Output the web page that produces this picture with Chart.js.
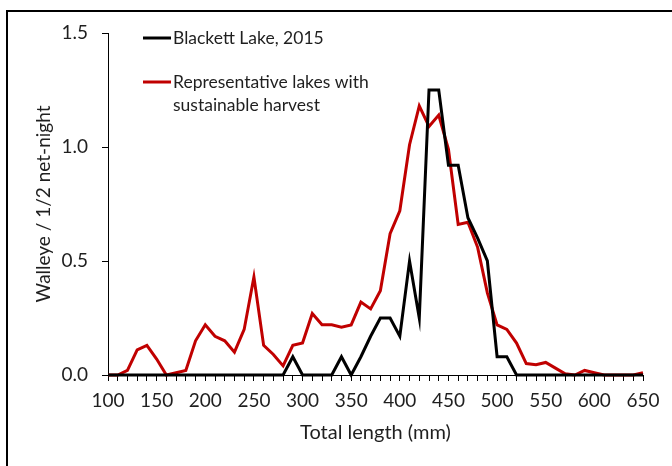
<!DOCTYPE html>
<html>
<head>
<meta charset="utf-8">
<script src="https://cdn.jsdelivr.net/npm/chart.js@4.4.1/dist/chart.umd.min.js"></script>
<style>
  html, body { margin:0; padding:0; background:#fff; }
  #wrap { position:relative; width:672px; height:466px; overflow:hidden; }
  #frame { position:absolute; left:6px; top:10px; width:700px; height:500px; border-left:2px solid #000; border-top:2px solid #000; }
  canvas { position:absolute; left:0; top:0; }
</style>
</head>
<body>
<div id="wrap">
  <div id="frame"></div>
  <canvas id="c" width="672" height="466"></canvas>
</div>
<script>
// total length classes (mm)
const lengths = [100,110,120,130,140,150,160,170,180,190,200,210,220,230,240,250,260,270,280,290,
  300,310,320,330,340,350,360,370,380,390,400,410,420,430,440,450,460,470,480,490,
  500,510,520,530,540,550,560,570,580,590,600,610,620,630,640,650]

// walleye per 1/2 net-night
const blackett = [0,0,0,0,0,0,0,0,0,0,0,0,0,0,0,0,0,0,0,0.08,
  0,0,0,0,0.08,0,0.08,0.17,0.25,0.25,0.17,0.5,0.25,1.25,1.25,0.92,0.92,0.69,0.6,0.5,
  0.08,0.08,0,0,0,0,0,0,0,0,0,0,0,0,0,0]
const representative = [0,0,0.02,0.11,0.13,0.07,0,0.01,0.02,0.15,0.22,0.17,0.15,0.10,0.20,0.43,0.13,0.09,0.04,0.13,
  0.14,0.27,0.22,0.22,0.21,0.22,0.32,0.29,0.37,0.62,0.72,1.01,1.18,1.09,1.14,0.99,0.66,0.67,0.56,0.36,
  0.22,0.20,0.14,0.05,0.045,0.055,0.03,0.005,0,0.02,0.01,0,0,0,0,0.01]

const legendItems = [
  { lines:['Blackett Lake, 2015'], color:'#000000' },
  { lines:['Representative lakes with','sustainable harvest'], color:'#c00000' },
]

const FONT = 'Lato'
const txt = '#1f1f1f'

const pts = arr => lengths.map((x,i) => ({ x, y: arr[i] }))

const legendPlugin = {
  id:'inlineLegend',
  afterDraw(chart) {
    const ctx = chart.ctx
    ctx.save()
    ctx.font = '17.5px ' + FONT
    ctx.textBaseline = 'middle'
    ctx.fillStyle = txt
    const rows = [38, 82]
    legendItems.forEach((it, i) => {
      const y = rows[i]
      ctx.strokeStyle = it.color
      ctx.lineWidth = 3
      ctx.beginPath(); ctx.moveTo(143, y); ctx.lineTo(171, y); ctx.stroke()
      it.lines.forEach((l, j) => ctx.fillText(l, 173, y + j*23))
    })
    ctx.restore()
  }
}

new Chart(document.getElementById('c'), {
  type:'line',
  data:{ datasets:[
    { label:'Blackett Lake, 2015', data: pts(blackett), borderColor:'#000000', borderWidth:3,
      pointRadius:0, tension:0, borderJoinStyle:'miter', clip:false },
    { label:'Representative lakes with sustainable harvest', data: pts(representative), borderColor:'#c00000', borderWidth:3,
      pointRadius:0, tension:0, borderJoinStyle:'miter', clip:false },
  ]},
  options:{
    responsive:false, animation:false,
    layout:{ padding:{ top:33, right:29, left:0, bottom:0 } },
    plugins:{ legend:{ display:false }, tooltip:{ enabled:false } },
    scales:{
      x:{ type:'linear', min:100, max:650,
        afterFit: s => { s.height = 91 },
        afterBuildTicks: s => { s.ticks = lengths.map(v => ({ value:v })) },
        ticks:{ autoSkip:false, maxRotation:0, padding:8, color:txt, font:{ family:FONT, size:19 },
          callback: v => v % 50 === 0 ? String(v) : '' },
        grid:{ drawOnChartArea:false, drawTicks:true, tickLength:6, color:'#000' },
        border:{ display:true, color:'#000', width:1 },
        title:{ display:true, text:'Total length (mm)', color:txt, font:{ family:FONT, size:20 }, padding:{ top:0, bottom:21 } } },
      y:{ min:0, max:1.5,
        afterFit: s => { s.width = 108 },
        ticks:{ stepSize:0.5, padding:14, color:txt, font:{ family:FONT, size:19 }, callback: v => v.toFixed(1) },
        grid:{ drawOnChartArea:false, drawTicks:true, tickLength:6, color:'#000' },
        border:{ display:true, color:'#000', width:1 },
        title:{ display:true, text:'Walleye / 1/2 net-night', color:txt, font:{ family:FONT, size:19 }, padding:{ top:32 } } }
    }
  },
  plugins:[legendPlugin]
})
</script>
</body>
</html>
